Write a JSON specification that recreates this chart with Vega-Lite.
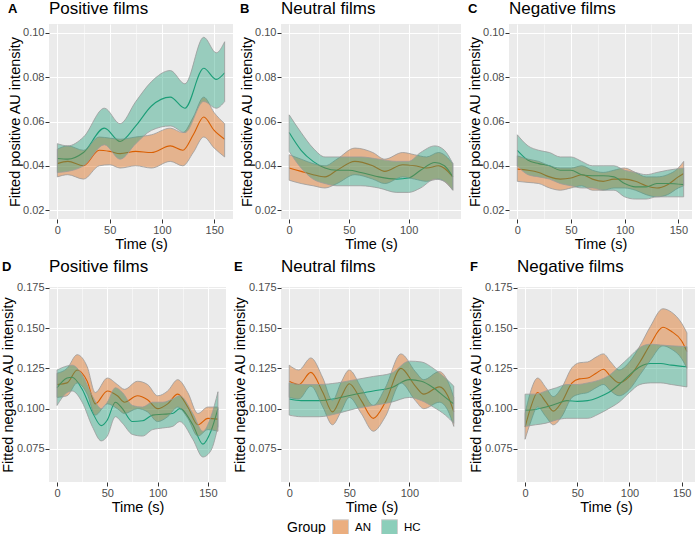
{
  "$schema": "https://vega.github.io/schema/vega-lite/v6.json",
  "padding": {"left": 0, "top": 0, "right": 0, "bottom": 22},
  "background": "#FFFFFF",
  "datasets": {
    "A": [
      {"g":"AN","t":0,"f":0.041,"lo":0.035,"hi":0.0475},
      {"g":"AN","t":10,"f":0.042,"lo":0.036,"hi":0.049},
      {"g":"AN","t":25,"f":0.040,"lo":0.034,"hi":0.047},
      {"g":"AN","t":40,"f":0.047,"lo":0.040,"hi":0.053},
      {"g":"AN","t":50,"f":0.0465,"lo":0.0405,"hi":0.0525},
      {"g":"AN","t":60,"f":0.0455,"lo":0.039,"hi":0.052},
      {"g":"AN","t":75,"f":0.0465,"lo":0.040,"hi":0.053},
      {"g":"AN","t":90,"f":0.046,"lo":0.039,"hi":0.054},
      {"g":"AN","t":108,"f":0.049,"lo":0.042,"hi":0.057},
      {"g":"AN","t":120,"f":0.047,"lo":0.040,"hi":0.055},
      {"g":"AN","t":130,"f":0.054,"lo":0.046,"hi":0.062},
      {"g":"AN","t":140,"f":0.062,"lo":0.053,"hi":0.071},
      {"g":"AN","t":150,"f":0.056,"lo":0.048,"hi":0.064},
      {"g":"AN","t":160,"f":0.052,"lo":0.044,"hi":0.059},
      {"g":"HC","t":0,"f":0.0433,"lo":0.037,"hi":0.050},
      {"g":"HC","t":10,"f":0.043,"lo":0.0375,"hi":0.049},
      {"g":"HC","t":25,"f":0.046,"lo":0.040,"hi":0.053},
      {"g":"HC","t":45,"f":0.057,"lo":0.0495,"hi":0.066},
      {"g":"HC","t":60,"f":0.051,"lo":0.043,"hi":0.059},
      {"g":"HC","t":75,"f":0.058,"lo":0.050,"hi":0.069},
      {"g":"HC","t":90,"f":0.067,"lo":0.056,"hi":0.078},
      {"g":"HC","t":108,"f":0.071,"lo":0.058,"hi":0.083},
      {"g":"HC","t":122,"f":0.066,"lo":0.055,"hi":0.077},
      {"g":"HC","t":140,"f":0.084,"lo":0.069,"hi":0.098},
      {"g":"HC","t":152,"f":0.079,"lo":0.066,"hi":0.091},
      {"g":"HC","t":160,"f":0.082,"lo":0.069,"hi":0.096}
    ],
    "B": [
      {"g":"AN","t":0,"f":0.039,"lo":0.0335,"hi":0.045},
      {"g":"AN","t":10,"f":0.0375,"lo":0.032,"hi":0.043},
      {"g":"AN","t":20,"f":0.036,"lo":0.031,"hi":0.041},
      {"g":"AN","t":30,"f":0.035,"lo":0.030,"hi":0.040},
      {"g":"AN","t":40,"f":0.038,"lo":0.032,"hi":0.043},
      {"g":"AN","t":55,"f":0.042,"lo":0.036,"hi":0.048},
      {"g":"AN","t":70,"f":0.040,"lo":0.034,"hi":0.046},
      {"g":"AN","t":80,"f":0.0375,"lo":0.032,"hi":0.043},
      {"g":"AN","t":95,"f":0.0405,"lo":0.035,"hi":0.046},
      {"g":"AN","t":105,"f":0.040,"lo":0.034,"hi":0.045},
      {"g":"AN","t":115,"f":0.039,"lo":0.033,"hi":0.044},
      {"g":"AN","t":125,"f":0.040,"lo":0.034,"hi":0.046},
      {"g":"AN","t":137,"f":0.035,"lo":0.029,"hi":0.041},
      {"g":"HC","t":0,"f":0.055,"lo":0.0465,"hi":0.063},
      {"g":"HC","t":10,"f":0.047,"lo":0.039,"hi":0.055},
      {"g":"HC","t":20,"f":0.042,"lo":0.034,"hi":0.048},
      {"g":"HC","t":30,"f":0.039,"lo":0.032,"hi":0.044},
      {"g":"HC","t":40,"f":0.038,"lo":0.031,"hi":0.044},
      {"g":"HC","t":50,"f":0.038,"lo":0.031,"hi":0.044},
      {"g":"HC","t":60,"f":0.037,"lo":0.031,"hi":0.044},
      {"g":"HC","t":75,"f":0.035,"lo":0.030,"hi":0.043},
      {"g":"HC","t":90,"f":0.034,"lo":0.028,"hi":0.042},
      {"g":"HC","t":100,"f":0.0345,"lo":0.028,"hi":0.042},
      {"g":"HC","t":110,"f":0.038,"lo":0.030,"hi":0.046},
      {"g":"HC","t":122,"f":0.0415,"lo":0.034,"hi":0.049},
      {"g":"HC","t":130,"f":0.040,"lo":0.033,"hi":0.047},
      {"g":"HC","t":137,"f":0.035,"lo":0.029,"hi":0.041}
    ],
    "C": [
      {"g":"AN","t":0,"f":0.0385,"lo":0.033,"hi":0.0445},
      {"g":"AN","t":10,"f":0.038,"lo":0.0325,"hi":0.043},
      {"g":"AN","t":20,"f":0.037,"lo":0.032,"hi":0.042},
      {"g":"AN","t":30,"f":0.035,"lo":0.030,"hi":0.040},
      {"g":"AN","t":40,"f":0.034,"lo":0.029,"hi":0.039},
      {"g":"AN","t":50,"f":0.0345,"lo":0.030,"hi":0.039},
      {"g":"AN","t":60,"f":0.036,"lo":0.031,"hi":0.040},
      {"g":"AN","t":70,"f":0.034,"lo":0.029,"hi":0.038},
      {"g":"AN","t":80,"f":0.033,"lo":0.029,"hi":0.037},
      {"g":"AN","t":90,"f":0.034,"lo":0.030,"hi":0.038},
      {"g":"AN","t":100,"f":0.034,"lo":0.030,"hi":0.039},
      {"g":"AN","t":110,"f":0.033,"lo":0.029,"hi":0.037},
      {"g":"AN","t":120,"f":0.031,"lo":0.027,"hi":0.035},
      {"g":"AN","t":130,"f":0.030,"lo":0.026,"hi":0.035},
      {"g":"AN","t":140,"f":0.0315,"lo":0.027,"hi":0.036},
      {"g":"AN","t":150,"f":0.035,"lo":0.030,"hi":0.039},
      {"g":"AN","t":155,"f":0.0365,"lo":0.031,"hi":0.042},
      {"g":"HC","t":0,"f":0.047,"lo":0.040,"hi":0.054},
      {"g":"HC","t":10,"f":0.0425,"lo":0.036,"hi":0.049},
      {"g":"HC","t":20,"f":0.041,"lo":0.035,"hi":0.047},
      {"g":"HC","t":30,"f":0.040,"lo":0.034,"hi":0.046},
      {"g":"HC","t":40,"f":0.038,"lo":0.032,"hi":0.044},
      {"g":"HC","t":50,"f":0.038,"lo":0.031,"hi":0.044},
      {"g":"HC","t":60,"f":0.036,"lo":0.030,"hi":0.042},
      {"g":"HC","t":70,"f":0.0355,"lo":0.030,"hi":0.040},
      {"g":"HC","t":80,"f":0.0355,"lo":0.029,"hi":0.040},
      {"g":"HC","t":90,"f":0.035,"lo":0.029,"hi":0.040},
      {"g":"HC","t":100,"f":0.032,"lo":0.026,"hi":0.038},
      {"g":"HC","t":110,"f":0.0305,"lo":0.025,"hi":0.037},
      {"g":"HC","t":120,"f":0.0305,"lo":0.025,"hi":0.036},
      {"g":"HC","t":130,"f":0.032,"lo":0.026,"hi":0.037},
      {"g":"HC","t":140,"f":0.032,"lo":0.026,"hi":0.038},
      {"g":"HC","t":155,"f":0.0315,"lo":0.026,"hi":0.039}
    ],
    "D": [
      {"g":"AN","t":0,"f":0.115,"lo":0.107,"hi":0.122},
      {"g":"AN","t":10,"f":0.116,"lo":0.108,"hi":0.125},
      {"g":"AN","t":20,"f":0.124,"lo":0.116,"hi":0.1335},
      {"g":"AN","t":30,"f":0.117,"lo":0.109,"hi":0.126},
      {"g":"AN","t":38,"f":0.103,"lo":0.096,"hi":0.110},
      {"g":"AN","t":50,"f":0.111,"lo":0.103,"hi":0.119},
      {"g":"AN","t":60,"f":0.108,"lo":0.100,"hi":0.115},
      {"g":"AN","t":67,"f":0.104,"lo":0.097,"hi":0.112},
      {"g":"AN","t":80,"f":0.108,"lo":0.100,"hi":0.117},
      {"g":"AN","t":90,"f":0.1055,"lo":0.098,"hi":0.115},
      {"g":"AN","t":100,"f":0.100,"lo":0.092,"hi":0.108},
      {"g":"AN","t":110,"f":0.103,"lo":0.095,"hi":0.111},
      {"g":"AN","t":120,"f":0.109,"lo":0.101,"hi":0.118},
      {"g":"AN","t":130,"f":0.101,"lo":0.094,"hi":0.110},
      {"g":"AN","t":140,"f":0.090,"lo":0.083,"hi":0.097},
      {"g":"AN","t":150,"f":0.094,"lo":0.087,"hi":0.101},
      {"g":"AN","t":160,"f":0.0935,"lo":0.086,"hi":0.101},
      {"g":"HC","t":0,"f":0.113,"lo":0.102,"hi":0.124},
      {"g":"HC","t":10,"f":0.119,"lo":0.110,"hi":0.1265},
      {"g":"HC","t":15,"f":0.1195,"lo":0.111,"hi":0.127},
      {"g":"HC","t":25,"f":0.112,"lo":0.104,"hi":0.121},
      {"g":"HC","t":35,"f":0.098,"lo":0.089,"hi":0.108},
      {"g":"HC","t":44,"f":0.0895,"lo":0.080,"hi":0.100},
      {"g":"HC","t":50,"f":0.093,"lo":0.083,"hi":0.104},
      {"g":"HC","t":58,"f":0.104,"lo":0.095,"hi":0.113},
      {"g":"HC","t":65,"f":0.100,"lo":0.091,"hi":0.110},
      {"g":"HC","t":75,"f":0.092,"lo":0.084,"hi":0.102},
      {"g":"HC","t":85,"f":0.0925,"lo":0.083,"hi":0.101},
      {"g":"HC","t":95,"f":0.096,"lo":0.087,"hi":0.104},
      {"g":"HC","t":105,"f":0.0965,"lo":0.088,"hi":0.104},
      {"g":"HC","t":115,"f":0.097,"lo":0.089,"hi":0.106},
      {"g":"HC","t":122,"f":0.100,"lo":0.092,"hi":0.108},
      {"g":"HC","t":135,"f":0.090,"lo":0.081,"hi":0.097},
      {"g":"HC","t":145,"f":0.078,"lo":0.070,"hi":0.086},
      {"g":"HC","t":153,"f":0.086,"lo":0.074,"hi":0.095},
      {"g":"HC","t":160,"f":0.100,"lo":0.089,"hi":0.1105}
    ],
    "E": [
      {"g":"AN","t":0,"f":0.117,"lo":0.107,"hi":0.127},
      {"g":"AN","t":8,"f":0.115,"lo":0.106,"hi":0.124},
      {"g":"AN","t":18,"f":0.1225,"lo":0.114,"hi":0.1315},
      {"g":"AN","t":28,"f":0.110,"lo":0.101,"hi":0.119},
      {"g":"AN","t":36,"f":0.098,"lo":0.090,"hi":0.105},
      {"g":"AN","t":43,"f":0.107,"lo":0.098,"hi":0.116},
      {"g":"AN","t":50,"f":0.1155,"lo":0.107,"hi":0.124},
      {"g":"AN","t":60,"f":0.105,"lo":0.097,"hi":0.113},
      {"g":"AN","t":70,"f":0.094,"lo":0.086,"hi":0.102},
      {"g":"AN","t":80,"f":0.104,"lo":0.095,"hi":0.113},
      {"g":"AN","t":93,"f":0.125,"lo":0.116,"hi":0.134},
      {"g":"AN","t":105,"f":0.114,"lo":0.105,"hi":0.123},
      {"g":"AN","t":112,"f":0.109,"lo":0.100,"hi":0.118},
      {"g":"AN","t":125,"f":0.1135,"lo":0.104,"hi":0.123},
      {"g":"AN","t":132,"f":0.108,"lo":0.099,"hi":0.117},
      {"g":"AN","t":137,"f":0.098,"lo":0.089,"hi":0.107},
      {"g":"HC","t":0,"f":0.106,"lo":0.096,"hi":0.116},
      {"g":"HC","t":10,"f":0.105,"lo":0.095,"hi":0.115},
      {"g":"HC","t":25,"f":0.105,"lo":0.095,"hi":0.115},
      {"g":"HC","t":40,"f":0.1065,"lo":0.097,"hi":0.116},
      {"g":"HC","t":55,"f":0.109,"lo":0.100,"hi":0.118},
      {"g":"HC","t":70,"f":0.111,"lo":0.102,"hi":0.120},
      {"g":"HC","t":85,"f":0.113,"lo":0.104,"hi":0.122},
      {"g":"HC","t":100,"f":0.118,"lo":0.107,"hi":0.1295},
      {"g":"HC","t":110,"f":0.117,"lo":0.105,"hi":0.129},
      {"g":"HC","t":120,"f":0.113,"lo":0.101,"hi":0.125},
      {"g":"HC","t":130,"f":0.107,"lo":0.096,"hi":0.119},
      {"g":"HC","t":137,"f":0.103,"lo":0.091,"hi":0.114}
    ],
    "F": [
      {"g":"AN","t":0,"f":0.0885,"lo":0.081,"hi":0.097},
      {"g":"AN","t":5,"f":0.100,"lo":0.091,"hi":0.110},
      {"g":"AN","t":12,"f":0.110,"lo":0.101,"hi":0.119},
      {"g":"AN","t":20,"f":0.104,"lo":0.095,"hi":0.113},
      {"g":"AN","t":27,"f":0.0985,"lo":0.090,"hi":0.1075},
      {"g":"AN","t":35,"f":0.104,"lo":0.095,"hi":0.113},
      {"g":"AN","t":45,"f":0.116,"lo":0.107,"hi":0.1255},
      {"g":"AN","t":52,"f":0.1185,"lo":0.109,"hi":0.1285},
      {"g":"AN","t":60,"f":0.119,"lo":0.110,"hi":0.129},
      {"g":"AN","t":68,"f":0.122,"lo":0.113,"hi":0.132},
      {"g":"AN","t":75,"f":0.1245,"lo":0.115,"hi":0.134},
      {"g":"AN","t":82,"f":0.120,"lo":0.111,"hi":0.129},
      {"g":"AN","t":90,"f":0.116,"lo":0.108,"hi":0.124},
      {"g":"AN","t":100,"f":0.120,"lo":0.112,"hi":0.129},
      {"g":"AN","t":110,"f":0.129,"lo":0.121,"hi":0.139},
      {"g":"AN","t":120,"f":0.140,"lo":0.130,"hi":0.151},
      {"g":"AN","t":132,"f":0.1505,"lo":0.139,"hi":0.162},
      {"g":"AN","t":140,"f":0.148,"lo":0.137,"hi":0.160},
      {"g":"AN","t":150,"f":0.142,"lo":0.131,"hi":0.153},
      {"g":"AN","t":155,"f":0.1355,"lo":0.125,"hi":0.147},
      {"g":"HC","t":0,"f":0.099,"lo":0.089,"hi":0.109},
      {"g":"HC","t":10,"f":0.0995,"lo":0.090,"hi":0.109},
      {"g":"HC","t":20,"f":0.101,"lo":0.091,"hi":0.111},
      {"g":"HC","t":30,"f":0.103,"lo":0.093,"hi":0.113},
      {"g":"HC","t":40,"f":0.105,"lo":0.094,"hi":0.115},
      {"g":"HC","t":50,"f":0.1045,"lo":0.094,"hi":0.115},
      {"g":"HC","t":60,"f":0.105,"lo":0.094,"hi":0.116},
      {"g":"HC","t":70,"f":0.107,"lo":0.0965,"hi":0.1175},
      {"g":"HC","t":80,"f":0.110,"lo":0.100,"hi":0.1205},
      {"g":"HC","t":90,"f":0.115,"lo":0.104,"hi":0.126},
      {"g":"HC","t":100,"f":0.121,"lo":0.110,"hi":0.132},
      {"g":"HC","t":110,"f":0.126,"lo":0.115,"hi":0.138},
      {"g":"HC","t":120,"f":0.128,"lo":0.116,"hi":0.140},
      {"g":"HC","t":130,"f":0.128,"lo":0.116,"hi":0.1395},
      {"g":"HC","t":140,"f":0.127,"lo":0.115,"hi":0.139},
      {"g":"HC","t":155,"f":0.126,"lo":0.1135,"hi":0.1385}
    ]
  },
  "vconcat": [
    {
      "spacing": 6,
      "hconcat": [
        {
          "title": {"text": "A", "anchor": "start", "frame": "bounds", "fontSize": 13, "fontWeight": "bold", "offset": -16, "dx": 1},
          "hconcat": [{
            "width": 184, "height": 195,
            "title": {"text": "Positive films", "anchor": "start", "frame": "group", "fontSize": 17, "offset": 6},
            "data": {"name": "A"},
            "encoding": {"x": {"field": "t", "type": "quantitative", "scale": {"domain": [-8, 168], "nice": false, "zero": false},
              "axis": {"title": "Time (s)", "labelOverlap": false, "values": [0, 25, 50, 75, 100, 125, 150], "labelExpr": "datum.value % 50 === 0 ? datum.label : ''", "gridWidth": {"condition": {"test": "datum.value % 50 === 0", "value": 1.1}, "value": 0.5}, "tickOpacity": {"condition": {"test": "datum.value % 50 === 0", "value": 1}, "value": 0}}}},
            "layer": [
              {"transform": [{"filter": "datum.g === 'AN'"}],
               "mark": {"type": "line", "interpolate": "monotone", "strokeWidth": 1.1, "color": "#D95F02"},
               "encoding": {"y": {"field": "f", "type": "quantitative", "scale": {"domain": [0.016, 0.104], "nice": false, "zero": false},
                 "axis": {"title": "Fitted positive AU intensity", "labelOverlap": false, "values": [0.02, 0.03, 0.04, 0.05, 0.06, 0.07, 0.08, 0.09, 0.1], "format": ".2f", "labelExpr": "round(datum.value*1000) % 20 === 0 ? datum.label : ''", "gridWidth": {"condition": {"test": "round(datum.value*1000) % 20 === 0", "value": 1.1}, "value": 0.5}, "tickOpacity": {"condition": {"test": "round(datum.value*1000) % 20 === 0", "value": 1}, "value": 0}}}}},
              {"transform": [{"filter": "datum.g === 'HC'"}],
               "mark": {"type": "line", "interpolate": "monotone", "strokeWidth": 1.1, "color": "#1B9E77"},
               "encoding": {"y": {"field": "f", "type": "quantitative", "title": "Fitted positive AU intensity"}}},
              {"mark": {"type": "area", "interpolate": "monotone", "fillOpacity": 0.4, "stroke": "#9A9A9A", "strokeWidth": 0.8},
               "encoding": {"y": {"field": "lo", "type": "quantitative", "title": "Fitted positive AU intensity"}, "y2": {"field": "hi"},
                 "fill": {"field": "g", "type": "nominal", "title": "Group", "scale": {"domain": ["AN", "HC"], "range": ["#D95F02", "#1B9E77"]},
                   "legend": {"orient": "none", "legendX": 238, "legendY": 495, "direction": "horizontal"}}}}
            ]
          }]
        },
        {
          "title": {"text": "B", "anchor": "start", "frame": "bounds", "fontSize": 13, "fontWeight": "bold", "offset": -16, "dx": 1},
          "hconcat": [{
            "width": 180, "height": 195,
            "title": {"text": "Neutral films", "anchor": "start", "frame": "group", "fontSize": 17, "offset": 6},
            "data": {"name": "B"},
            "encoding": {"x": {"field": "t", "type": "quantitative", "scale": {"domain": [-6.85, 143.85], "nice": false, "zero": false},
              "axis": {"title": "Time (s)", "labelOverlap": false, "values": [0, 25, 50, 75, 100, 125], "labelExpr": "datum.value % 50 === 0 ? datum.label : ''", "gridWidth": {"condition": {"test": "datum.value % 50 === 0", "value": 1.1}, "value": 0.5}, "tickOpacity": {"condition": {"test": "datum.value % 50 === 0", "value": 1}, "value": 0}}}},
            "layer": [
              {"transform": [{"filter": "datum.g === 'AN'"}],
               "mark": {"type": "line", "interpolate": "monotone", "strokeWidth": 1.1, "color": "#D95F02"},
               "encoding": {"y": {"field": "f", "type": "quantitative", "scale": {"domain": [0.016, 0.104], "nice": false, "zero": false},
                 "axis": {"title": "Fitted positive AU intensity", "labelOverlap": false, "values": [0.02, 0.03, 0.04, 0.05, 0.06, 0.07, 0.08, 0.09, 0.1], "format": ".2f", "labelExpr": "round(datum.value*1000) % 20 === 0 ? datum.label : ''", "gridWidth": {"condition": {"test": "round(datum.value*1000) % 20 === 0", "value": 1.1}, "value": 0.5}, "tickOpacity": {"condition": {"test": "round(datum.value*1000) % 20 === 0", "value": 1}, "value": 0}}}}},
              {"transform": [{"filter": "datum.g === 'HC'"}],
               "mark": {"type": "line", "interpolate": "monotone", "strokeWidth": 1.1, "color": "#1B9E77"},
               "encoding": {"y": {"field": "f", "type": "quantitative", "title": "Fitted positive AU intensity"}}},
              {"mark": {"type": "area", "interpolate": "monotone", "fillOpacity": 0.4, "stroke": "#9A9A9A", "strokeWidth": 0.8},
               "encoding": {"y": {"field": "lo", "type": "quantitative", "title": "Fitted positive AU intensity"}, "y2": {"field": "hi"},
                 "fill": {"field": "g", "type": "nominal", "title": "Group", "scale": {"domain": ["AN", "HC"], "range": ["#D95F02", "#1B9E77"]},
                   "legend": {"orient": "none", "legendX": 238, "legendY": 495, "direction": "horizontal"}}}}
            ]
          }]
        },
        {
          "title": {"text": "C", "anchor": "start", "frame": "bounds", "fontSize": 13, "fontWeight": "bold", "offset": -16, "dx": 1},
          "hconcat": [{
            "width": 183, "height": 195,
            "title": {"text": "Negative films", "anchor": "start", "frame": "group", "fontSize": 17, "offset": 6},
            "data": {"name": "C"},
            "encoding": {"x": {"field": "t", "type": "quantitative", "scale": {"domain": [-7.75, 162.75], "nice": false, "zero": false},
              "axis": {"title": "Time (s)", "labelOverlap": false, "values": [0, 25, 50, 75, 100, 125, 150], "labelExpr": "datum.value % 50 === 0 ? datum.label : ''", "gridWidth": {"condition": {"test": "datum.value % 50 === 0", "value": 1.1}, "value": 0.5}, "tickOpacity": {"condition": {"test": "datum.value % 50 === 0", "value": 1}, "value": 0}}}},
            "layer": [
              {"transform": [{"filter": "datum.g === 'AN'"}],
               "mark": {"type": "line", "interpolate": "monotone", "strokeWidth": 1.1, "color": "#D95F02"},
               "encoding": {"y": {"field": "f", "type": "quantitative", "scale": {"domain": [0.016, 0.104], "nice": false, "zero": false},
                 "axis": {"title": "Fitted positive AU intensity", "labelOverlap": false, "values": [0.02, 0.03, 0.04, 0.05, 0.06, 0.07, 0.08, 0.09, 0.1], "format": ".2f", "labelExpr": "round(datum.value*1000) % 20 === 0 ? datum.label : ''", "gridWidth": {"condition": {"test": "round(datum.value*1000) % 20 === 0", "value": 1.1}, "value": 0.5}, "tickOpacity": {"condition": {"test": "round(datum.value*1000) % 20 === 0", "value": 1}, "value": 0}}}}},
              {"transform": [{"filter": "datum.g === 'HC'"}],
               "mark": {"type": "line", "interpolate": "monotone", "strokeWidth": 1.1, "color": "#1B9E77"},
               "encoding": {"y": {"field": "f", "type": "quantitative", "title": "Fitted positive AU intensity"}}},
              {"mark": {"type": "area", "interpolate": "monotone", "fillOpacity": 0.4, "stroke": "#9A9A9A", "strokeWidth": 0.8},
               "encoding": {"y": {"field": "lo", "type": "quantitative", "title": "Fitted positive AU intensity"}, "y2": {"field": "hi"},
                 "fill": {"field": "g", "type": "nominal", "title": "Group", "scale": {"domain": ["AN", "HC"], "range": ["#D95F02", "#1B9E77"]},
                   "legend": {"orient": "none", "legendX": 238, "legendY": 495, "direction": "horizontal"}}}}
            ]
          }]
        }
      ]
    },
    {
      "spacing": 6,
      "hconcat": [
        {
          "title": {"text": "D", "anchor": "start", "frame": "bounds", "fontSize": 13, "fontWeight": "bold", "offset": -16, "dx": 1},
          "hconcat": [{
            "width": 177, "height": 195,
            "title": {"text": "Positive films", "anchor": "start", "frame": "group", "fontSize": 17, "offset": 6},
            "data": {"name": "D"},
            "resolve": {"axis": {"y": "independent"}},
            "encoding": {"x": {"field": "t", "type": "quantitative", "scale": {"domain": [-8, 168], "nice": false, "zero": false},
              "axis": {"title": "Time (s)", "labelOverlap": false, "values": [0, 25, 50, 75, 100, 125, 150], "labelExpr": "datum.value % 50 === 0 ? datum.label : ''", "gridWidth": {"condition": {"test": "datum.value % 50 === 0", "value": 1.1}, "value": 0.5}, "tickOpacity": {"condition": {"test": "datum.value % 50 === 0", "value": 1}, "value": 0}}}},
            "layer": [
              {"transform": [{"filter": "datum.g === 'AN'"}],
               "mark": {"type": "line", "interpolate": "monotone", "strokeWidth": 1.1, "color": "#D95F02"},
               "encoding": {"y": {"field": "f", "type": "quantitative", "scale": {"domain": [0.0545, 0.1755], "nice": false, "zero": false},
                 "axis": {"title": "Fitted negative AU intensity", "labelOverlap": false, "values": [0.075, 0.1, 0.125, 0.15, 0.175], "format": ".3f", "gridWidth": 1.1}}}},
              {"transform": [{"filter": "datum.g === 'HC'"}],
               "mark": {"type": "line", "interpolate": "monotone", "strokeWidth": 1.1, "color": "#1B9E77"},
               "encoding": {"y": {"field": "f", "type": "quantitative", "axis": null}}},
              {"mark": {"type": "area", "interpolate": "monotone", "fillOpacity": 0.4, "stroke": "#9A9A9A", "strokeWidth": 0.8},
               "encoding": {"y": {"field": "lo", "type": "quantitative", "axis": {"title": null, "orient": "right", "values": [0.0625, 0.0875, 0.1125, 0.1375, 0.1625], "labels": false, "ticks": false, "gridWidth": 0.5}}, "y2": {"field": "hi"},
                 "fill": {"field": "g", "type": "nominal", "title": "Group", "scale": {"domain": ["AN", "HC"], "range": ["#D95F02", "#1B9E77"]},
                   "legend": {"orient": "none", "legendX": 238, "legendY": 495, "direction": "horizontal"}}}}
            ]
          }]
        },
        {
          "title": {"text": "E", "anchor": "start", "frame": "bounds", "fontSize": 13, "fontWeight": "bold", "offset": -16, "dx": 1},
          "hconcat": [{
            "width": 181, "height": 195,
            "title": {"text": "Neutral films", "anchor": "start", "frame": "group", "fontSize": 17, "offset": 6},
            "data": {"name": "E"},
            "resolve": {"axis": {"y": "independent"}},
            "encoding": {"x": {"field": "t", "type": "quantitative", "scale": {"domain": [-6.85, 143.85], "nice": false, "zero": false},
              "axis": {"title": "Time (s)", "labelOverlap": false, "values": [0, 25, 50, 75, 100, 125], "labelExpr": "datum.value % 50 === 0 ? datum.label : ''", "gridWidth": {"condition": {"test": "datum.value % 50 === 0", "value": 1.1}, "value": 0.5}, "tickOpacity": {"condition": {"test": "datum.value % 50 === 0", "value": 1}, "value": 0}}}},
            "layer": [
              {"transform": [{"filter": "datum.g === 'AN'"}],
               "mark": {"type": "line", "interpolate": "monotone", "strokeWidth": 1.1, "color": "#D95F02"},
               "encoding": {"y": {"field": "f", "type": "quantitative", "scale": {"domain": [0.0545, 0.1755], "nice": false, "zero": false},
                 "axis": {"title": "Fitted negative AU intensity", "labelOverlap": false, "values": [0.075, 0.1, 0.125, 0.15, 0.175], "format": ".3f", "gridWidth": 1.1}}}},
              {"transform": [{"filter": "datum.g === 'HC'"}],
               "mark": {"type": "line", "interpolate": "monotone", "strokeWidth": 1.1, "color": "#1B9E77"},
               "encoding": {"y": {"field": "f", "type": "quantitative", "axis": null}}},
              {"mark": {"type": "area", "interpolate": "monotone", "fillOpacity": 0.4, "stroke": "#9A9A9A", "strokeWidth": 0.8},
               "encoding": {"y": {"field": "lo", "type": "quantitative", "axis": {"title": null, "orient": "right", "values": [0.0625, 0.0875, 0.1125, 0.1375, 0.1625], "labels": false, "ticks": false, "gridWidth": 0.5}}, "y2": {"field": "hi"},
                 "fill": {"field": "g", "type": "nominal", "title": "Group", "scale": {"domain": ["AN", "HC"], "range": ["#D95F02", "#1B9E77"]},
                   "legend": {"orient": "none", "legendX": 238, "legendY": 495, "direction": "horizontal"}}}}
            ]
          }]
        },
        {
          "title": {"text": "F", "anchor": "start", "frame": "bounds", "fontSize": 13, "fontWeight": "bold", "offset": -16, "dx": 1},
          "hconcat": [{
            "width": 178, "height": 195,
            "title": {"text": "Negative films", "anchor": "start", "frame": "group", "fontSize": 17, "offset": 6},
            "data": {"name": "F"},
            "resolve": {"axis": {"y": "independent"}},
            "encoding": {"x": {"field": "t", "type": "quantitative", "scale": {"domain": [-7.75, 162.75], "nice": false, "zero": false},
              "axis": {"title": "Time (s)", "labelOverlap": false, "values": [0, 25, 50, 75, 100, 125, 150], "labelExpr": "datum.value % 50 === 0 ? datum.label : ''", "gridWidth": {"condition": {"test": "datum.value % 50 === 0", "value": 1.1}, "value": 0.5}, "tickOpacity": {"condition": {"test": "datum.value % 50 === 0", "value": 1}, "value": 0}}}},
            "layer": [
              {"transform": [{"filter": "datum.g === 'AN'"}],
               "mark": {"type": "line", "interpolate": "monotone", "strokeWidth": 1.1, "color": "#D95F02"},
               "encoding": {"y": {"field": "f", "type": "quantitative", "scale": {"domain": [0.0545, 0.1755], "nice": false, "zero": false},
                 "axis": {"title": "Fitted negative AU intensity", "labelOverlap": false, "values": [0.075, 0.1, 0.125, 0.15, 0.175], "format": ".3f", "gridWidth": 1.1}}}},
              {"transform": [{"filter": "datum.g === 'HC'"}],
               "mark": {"type": "line", "interpolate": "monotone", "strokeWidth": 1.1, "color": "#1B9E77"},
               "encoding": {"y": {"field": "f", "type": "quantitative", "axis": null}}},
              {"mark": {"type": "area", "interpolate": "monotone", "fillOpacity": 0.4, "stroke": "#9A9A9A", "strokeWidth": 0.8},
               "encoding": {"y": {"field": "lo", "type": "quantitative", "axis": {"title": null, "orient": "right", "values": [0.0625, 0.0875, 0.1125, 0.1375, 0.1625], "labels": false, "ticks": false, "gridWidth": 0.5}}, "y2": {"field": "hi"},
                 "fill": {"field": "g", "type": "nominal", "title": "Group", "scale": {"domain": ["AN", "HC"], "range": ["#D95F02", "#1B9E77"]},
                   "legend": {"orient": "none", "legendX": 238, "legendY": 495, "direction": "horizontal"}}}}
            ]
          }]
        }
      ]
    }
  ],
  "spacing": 6,
  "resolve": {"scale": {"fill": "shared"}, "legend": {"fill": "shared"}},
  "config": {
    "font": "Liberation Sans",
    "view": {"fill": "#EBEBEB", "stroke": null},
    "axis": {"domain": false, "gridColor": "#FFFFFF", "tickColor": "#333333", "tickSize": 4, "tickWidth": 1, "labelColor": "#4D4D4D", "labelFontSize": 11, "labelPadding": 1, "titleColor": "#000000", "titleFontSize": 14.5, "titleFontWeight": "normal", "labelFlush": false, "labelFont": "Liberation Sans", "titleFont": "Liberation Sans"},
    "axisX": {"titlePadding": 2},
    "axisY": {"titlePadding": 0.5},
    "title": {"font": "Liberation Sans", "color": "#000000", "fontWeight": "normal"},
    "legend": {"titleOrient": "left", "titleFontSize": 14, "titleFontWeight": "normal", "titleColor": "#000000", "titlePadding": 6, "labelFontSize": 11.5, "labelColor": "#000000", "labelOffset": 6, "columnPadding": 8, "symbolType": "square", "symbolSize": 256, "symbolStrokeColor": "#A0A0A0", "symbolStrokeWidth": 1, "symbolOpacity": 0.5, "titleFont": "Liberation Sans", "labelFont": "Liberation Sans"}
  }
}
